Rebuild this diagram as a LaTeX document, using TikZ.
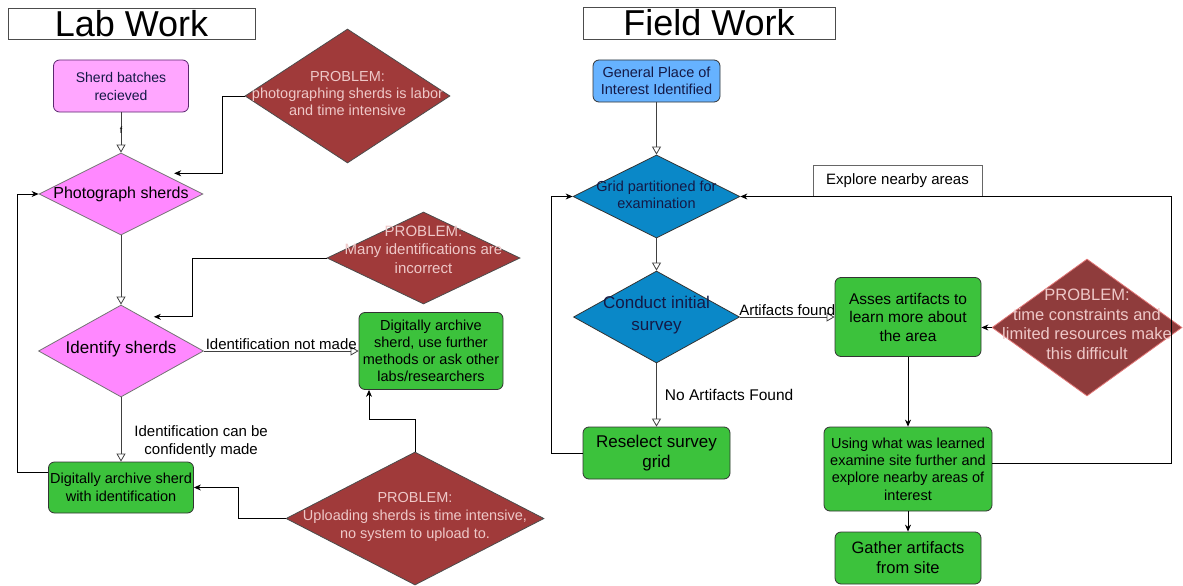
\documentclass[tikz,border=0pt]{standalone}
\usepackage{fontspec}
\setmainfont{Liberation Sans}
\usepackage{tikz}
\usetikzlibrary{arrows.meta, shapes.geometric}

\definecolor{probred}{RGB}{160,58,58}
\definecolor{probred2}{RGB}{143,60,60}
\definecolor{probedge}{RGB}{225,120,120}
\definecolor{probtxt}{RGB}{238,200,200}
\definecolor{labpink}{RGB}{255,136,255}
\definecolor{sherdpink}{RGB}{255,166,255}
\definecolor{sherdedge}{RGB}{90,40,110}
\definecolor{stepgreen}{RGB}{60,194,60}
\definecolor{genblue}{RGB}{102,178,255}
\definecolor{gridblue}{RGB}{10,136,200}
\definecolor{navytxt}{RGB}{20,25,70}

\newcommand{\fsz}[2]{\fontsize{#1}{#2}\selectfont}

\begin{document}
\begin{tikzpicture}[x=1pt,y=-1pt,line width=0.8pt,>={Stealth[length=7pt,width=6pt]},
        oarrow/.style={-{Triangle[open,length=8pt,width=9pt]},draw=black!75},
        sarrow/.style={->,draw=black},
        box/.style={rectangle,rounded corners=6pt,draw=black!80,align=center,inner sep=0pt},
        greenbox/.style={box,fill=stepgreen},
        diam/.style={diamond,draw,inner sep=0pt},
        problem/.style={diam,fill=probred,draw=black!70},
        ptxt/.style={text=probtxt,align=center},
        title/.style={draw=black!70,font=\fsz{36}{36},text height=26pt,text depth=0pt,inner sep=0pt},
        elabel/.style={inner sep=1pt,font=\fsz{15}{18}}]

    \useasboundingbox (0,0) rectangle (1183,586);

    \node[title,minimum width=247pt,minimum height=31pt] (labtitle) at (131.5,23.5) {Lab Work};
    \node[title,minimum width=252pt,minimum height=32pt] (fieldtitle) at (709,23) {Field Work};

    \node[box,fill=sherdpink,draw=sherdedge,text=navytxt,font=\fsz{14}{18},
          minimum width=135pt,minimum height=52pt] (sherd) at (121,86) {Sherd batches\\recieved};
    \node[diam,fill=labpink,draw=black!55,minimum width=164pt,minimum height=82pt,
          label={[font=\fsz{16}{19}]center:Photograph sherds}] (photo) at (121,194) {};
    \node[diam,fill=labpink,draw=black!55,minimum width=165pt,minimum height=92pt,
          label={[font=\fsz{17}{20},yshift=2pt]center:Identify sherds}] (iden) at (121,351) {};
    \node[greenbox,font=\fsz{14.5}{17},minimum width=144pt,minimum height=77pt] (arch2) at (431,351)
        {Digitally archive\\sherd, use further\\methods or ask other\\labs/researchers};
    \node[greenbox,font=\fsz{14.5}{18},minimum width=145pt,minimum height=51pt] (arch1) at (121,487.5)
        {Digitally archive sherd\\with identification};

    \node[problem,minimum width=205pt,minimum height=134pt,
          label={[ptxt,font=\fsz{14.5}{17},yshift=2pt]center:{PROBLEM:\\photographing sherds is labor\\and time intensive}}]
          (prob1) at (347.5,96) {};
    \node[problem,minimum width=193pt,minimum height=92pt,
          label={[ptxt,font=\fsz{15}{18.5},yshift=8.5pt]center:{PROBLEM:\\Many identifications are\\incorrect}}]
          (prob2) at (423.5,258) {};
    \node[problem,minimum width=258pt,minimum height=133pt,
          label={[ptxt,font=\fsz{14.5}{18},yshift=1.5pt]center:{PROBLEM:\\Uploading sherds is time intensive,\\no system to upload to.}}]
          (prob3) at (415,518.5) {};

    \node[box,fill=genblue,draw=black!80,text=navytxt,font=\fsz{14.5}{17},
          minimum width=127pt,minimum height=42pt] (gen) at (656.5,81) {General Place of\\Interest Identified};
    \node[diam,fill=gridblue,draw=black!80,minimum width=167pt,minimum height=83pt,
          label={[text=navytxt,align=center,font=\fsz{14.5}{17},yshift=2pt]center:{Grid partitioned for\\examination}}]
          (grid) at (656.5,196.5) {};
    \node[diam,fill=gridblue,draw=black!80,minimum width=166pt,minimum height=92pt,
          label={[text=navytxt,align=center,font=\fsz{17}{22},yshift=2pt]center:{Conduct initial\\survey}}]
          (cond) at (656.5,317) {};
    \node[greenbox,font=\fsz{17}{20},minimum width=147pt,minimum height=52pt] (resel) at (656.5,453)
        {Reselect survey\\grid};
    \node[greenbox,font=\fsz{15.5}{18.5},minimum width=146pt,minimum height=79pt] (asses) at (908,317)
        {Asses artifacts to\\learn more about\\the area};
    \node[greenbox,font=\fsz{14.5}{17.3},minimum width=168pt,minimum height=84pt] (using) at (908,469)
        {Using what was learned\\examine site further and\\explore nearby areas of\\interest};
    \node[greenbox,font=\fsz{16.5}{20},minimum width=146pt,minimum height=52pt] (gather) at (908,558)
        {Gather artifacts\\from site};
    \node[diam,fill=probred2,draw=probedge,minimum width=190pt,minimum height=137pt,
          label={[ptxt,font=\fsz{16.5}{19.5},yshift=3pt]center:{PROBLEM:\\time constraints and\\limited resources make\\this difficult}}]
          (prob4) at (1087,327.5) {};
    \node[draw=black!60,minimum width=169pt,minimum height=31pt,inner sep=0pt,font=\fsz{15}{18}]
          (explore) at (897.5,180.5) {Explore nearby areas};

    \draw[oarrow] (sherd) -- node[pos=.45,inner sep=0pt,font=\fsz{9}{9}] {f} (photo);
    \draw[oarrow] (photo) -- (iden);
    \draw[oarrow] (iden) -- node[elabel,above] {Identification not made} (arch2);
    \draw[oarrow] (iden) -- node[elabel,pos=.69,right=12pt,align=center] {Identification can be\\confidently made} (arch1);
    \draw[sarrow] ([yshift=15.5pt]arch1.west) -- ++(-31,0) |- (photo.west);
    \draw[sarrow] (prob1.west) -- ++(-22,0) |- ([xshift=12pt]photo.north east);
    \draw[sarrow] (prob2.west) -- ++(-134,0) |- ([shift={(-8.6pt,11pt)}]iden.north east);
    \draw[sarrow] (prob3.north) -- ++(0,-32) -| ([xshift=-62pt]arch2.south);
    \draw[sarrow] (prob3.west) -- ++(-47,0) |- (arch1.east);

    \draw[oarrow] (gen) -- (grid);
    \draw[oarrow] (grid) -- (cond);
    \draw[oarrow] (cond) -- node[elabel,above] {Artifacts found} (asses);
    \draw[oarrow] (cond) -- node[elabel,font=\fsz{15.5}{18},right=7pt] {No Artifacts Found} (resel);
    \draw[sarrow] (resel.west) -- ++(-31,0) |- (grid.west);
    \draw[sarrow] (asses) -- (using);
    \draw[sarrow] (using) -- (gather);
    \draw[sarrow] (prob4.west) -- (prob4.west -| asses.east);
    \draw[sarrow] ([yshift=6pt]using.east) -- ++(179,0) |- (grid.east);
\end{tikzpicture}
\end{document}
